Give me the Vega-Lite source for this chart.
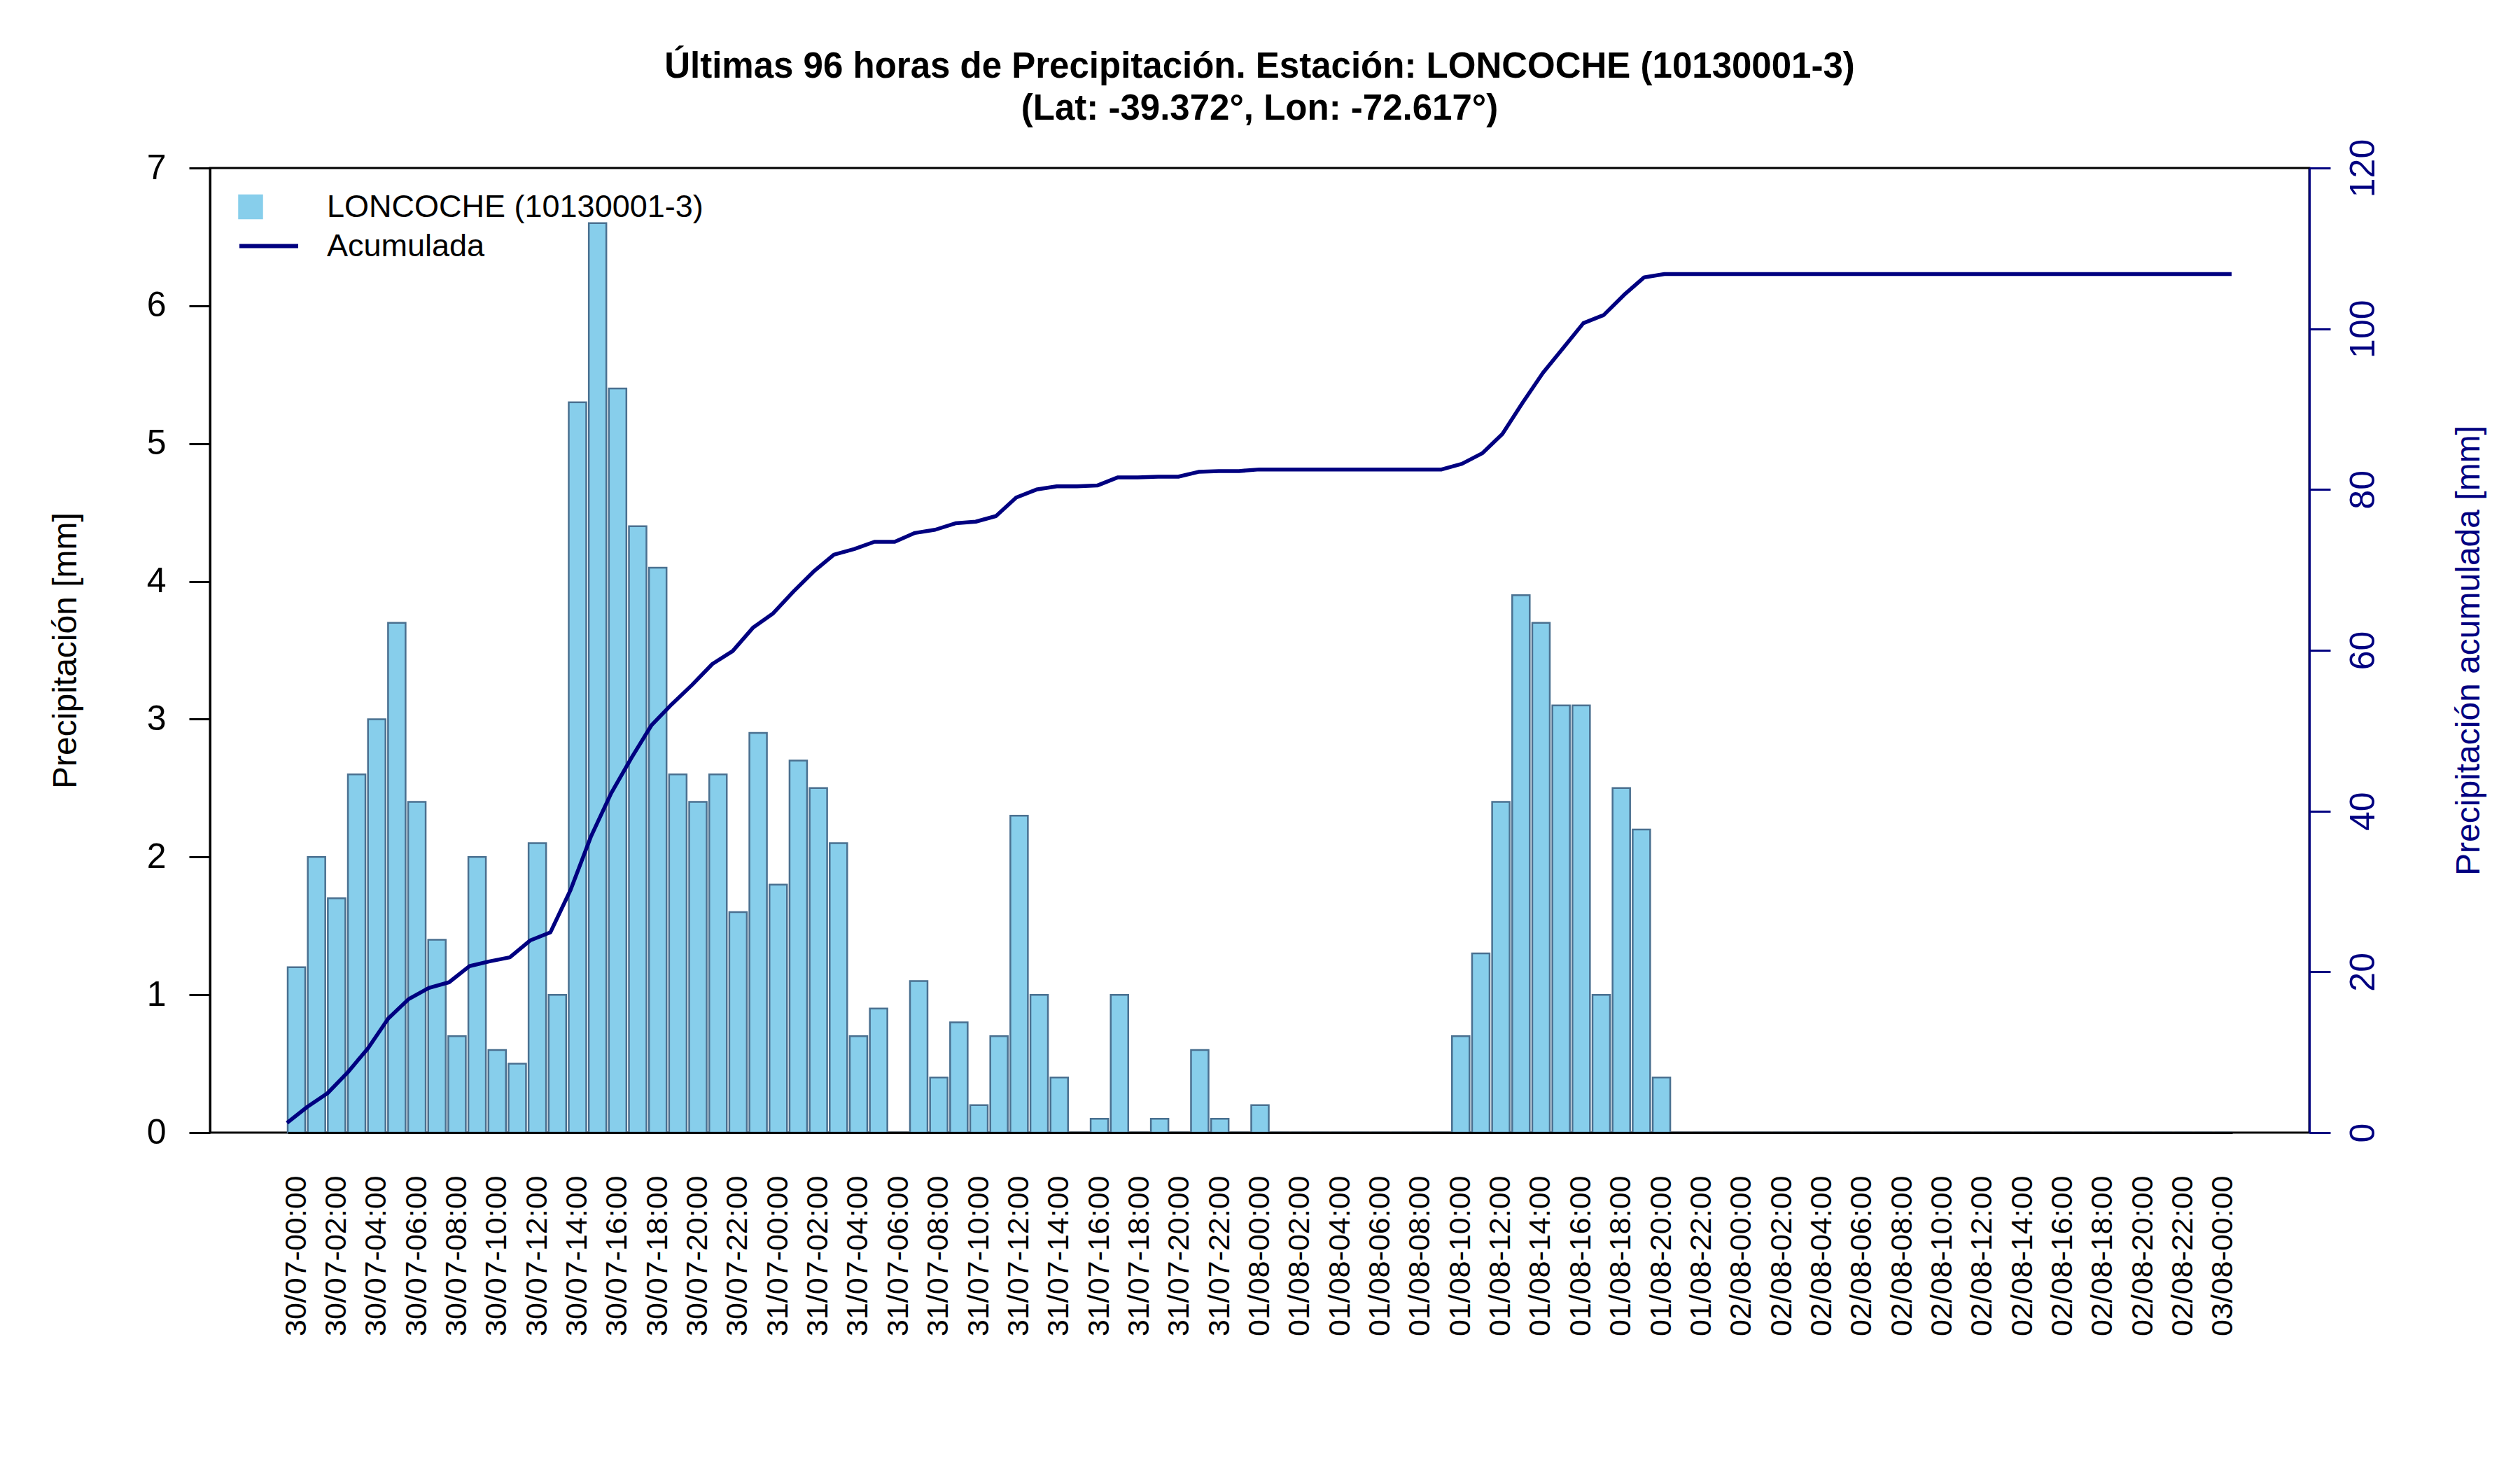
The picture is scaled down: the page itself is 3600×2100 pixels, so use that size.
{
  "$schema": "https://vega.github.io/schema/vega-lite/v6.json",
  "width": 2999,
  "height": 1378,
  "autosize": "none",
  "padding": {"left": 300, "top": 240, "right": 301, "bottom": 482},
  "background": "white",
  "title": {
    "text": ["Últimas 96 horas de Precipitación. Estación: LONCOCHE (10130001-3)", "(Lat: -39.372°, Lon: -72.617°)"],
    "font": "Liberation Sans",
    "fontSize": 51,
    "fontWeight": "bold",
    "lineHeight": 60,
    "offset": 16,
    "anchor": "middle",
    "color": "black"
  },
  "data": {
    "values": [
      {"t": "30/07-00:00", "p": 1.2, "c": 1.2},
      {"t": "30/07-01:00", "p": 2.0, "c": 3.2},
      {"t": "30/07-02:00", "p": 1.7, "c": 4.9},
      {"t": "30/07-03:00", "p": 2.6, "c": 7.5},
      {"t": "30/07-04:00", "p": 3.0, "c": 10.5},
      {"t": "30/07-05:00", "p": 3.7, "c": 14.2},
      {"t": "30/07-06:00", "p": 2.4, "c": 16.6},
      {"t": "30/07-07:00", "p": 1.4, "c": 18.0},
      {"t": "30/07-08:00", "p": 0.7, "c": 18.7},
      {"t": "30/07-09:00", "p": 2.0, "c": 20.7},
      {"t": "30/07-10:00", "p": 0.6, "c": 21.3},
      {"t": "30/07-11:00", "p": 0.5, "c": 21.8},
      {"t": "30/07-12:00", "p": 2.1, "c": 23.9},
      {"t": "30/07-13:00", "p": 1.0, "c": 24.9},
      {"t": "30/07-14:00", "p": 5.3, "c": 30.2},
      {"t": "30/07-15:00", "p": 6.6, "c": 36.8},
      {"t": "30/07-16:00", "p": 5.4, "c": 42.2},
      {"t": "30/07-17:00", "p": 4.4, "c": 46.6},
      {"t": "30/07-18:00", "p": 4.1, "c": 50.7},
      {"t": "30/07-19:00", "p": 2.6, "c": 53.3},
      {"t": "30/07-20:00", "p": 2.4, "c": 55.7},
      {"t": "30/07-21:00", "p": 2.6, "c": 58.3},
      {"t": "30/07-22:00", "p": 1.6, "c": 59.9},
      {"t": "30/07-23:00", "p": 2.9, "c": 62.8},
      {"t": "31/07-00:00", "p": 1.8, "c": 64.6},
      {"t": "31/07-01:00", "p": 2.7, "c": 67.3},
      {"t": "31/07-02:00", "p": 2.5, "c": 69.8},
      {"t": "31/07-03:00", "p": 2.1, "c": 71.9},
      {"t": "31/07-04:00", "p": 0.7, "c": 72.6},
      {"t": "31/07-05:00", "p": 0.9, "c": 73.5},
      {"t": "31/07-06:00", "p": 0.0, "c": 73.5},
      {"t": "31/07-07:00", "p": 1.1, "c": 74.6},
      {"t": "31/07-08:00", "p": 0.4, "c": 75.0},
      {"t": "31/07-09:00", "p": 0.8, "c": 75.8},
      {"t": "31/07-10:00", "p": 0.2, "c": 76.0},
      {"t": "31/07-11:00", "p": 0.7, "c": 76.7},
      {"t": "31/07-12:00", "p": 2.3, "c": 79.0},
      {"t": "31/07-13:00", "p": 1.0, "c": 80.0},
      {"t": "31/07-14:00", "p": 0.4, "c": 80.4},
      {"t": "31/07-15:00", "p": 0.0, "c": 80.4},
      {"t": "31/07-16:00", "p": 0.1, "c": 80.5},
      {"t": "31/07-17:00", "p": 1.0, "c": 81.5},
      {"t": "31/07-18:00", "p": 0.0, "c": 81.5},
      {"t": "31/07-19:00", "p": 0.1, "c": 81.6},
      {"t": "31/07-20:00", "p": 0.0, "c": 81.6},
      {"t": "31/07-21:00", "p": 0.6, "c": 82.2},
      {"t": "31/07-22:00", "p": 0.1, "c": 82.3},
      {"t": "31/07-23:00", "p": 0.0, "c": 82.3},
      {"t": "01/08-00:00", "p": 0.2, "c": 82.5},
      {"t": "01/08-01:00", "p": 0.0, "c": 82.5},
      {"t": "01/08-02:00", "p": 0.0, "c": 82.5},
      {"t": "01/08-03:00", "p": 0.0, "c": 82.5},
      {"t": "01/08-04:00", "p": 0.0, "c": 82.5},
      {"t": "01/08-05:00", "p": 0.0, "c": 82.5},
      {"t": "01/08-06:00", "p": 0.0, "c": 82.5},
      {"t": "01/08-07:00", "p": 0.0, "c": 82.5},
      {"t": "01/08-08:00", "p": 0.0, "c": 82.5},
      {"t": "01/08-09:00", "p": 0.0, "c": 82.5},
      {"t": "01/08-10:00", "p": 0.7, "c": 83.2},
      {"t": "01/08-11:00", "p": 1.3, "c": 84.5},
      {"t": "01/08-12:00", "p": 2.4, "c": 86.9},
      {"t": "01/08-13:00", "p": 3.9, "c": 90.8},
      {"t": "01/08-14:00", "p": 3.7, "c": 94.5},
      {"t": "01/08-15:00", "p": 3.1, "c": 97.6},
      {"t": "01/08-16:00", "p": 3.1, "c": 100.7},
      {"t": "01/08-17:00", "p": 1.0, "c": 101.7},
      {"t": "01/08-18:00", "p": 2.5, "c": 104.2},
      {"t": "01/08-19:00", "p": 2.2, "c": 106.4},
      {"t": "01/08-20:00", "p": 0.4, "c": 106.8},
      {"t": "01/08-21:00", "p": 0.0, "c": 106.8},
      {"t": "01/08-22:00", "p": 0.0, "c": 106.8},
      {"t": "01/08-23:00", "p": 0.0, "c": 106.8},
      {"t": "02/08-00:00", "p": 0.0, "c": 106.8},
      {"t": "02/08-01:00", "p": 0.0, "c": 106.8},
      {"t": "02/08-02:00", "p": 0.0, "c": 106.8},
      {"t": "02/08-03:00", "p": 0.0, "c": 106.8},
      {"t": "02/08-04:00", "p": 0.0, "c": 106.8},
      {"t": "02/08-05:00", "p": 0.0, "c": 106.8},
      {"t": "02/08-06:00", "p": 0.0, "c": 106.8},
      {"t": "02/08-07:00", "p": 0.0, "c": 106.8},
      {"t": "02/08-08:00", "p": 0.0, "c": 106.8},
      {"t": "02/08-09:00", "p": 0.0, "c": 106.8},
      {"t": "02/08-10:00", "p": 0.0, "c": 106.8},
      {"t": "02/08-11:00", "p": 0.0, "c": 106.8},
      {"t": "02/08-12:00", "p": 0.0, "c": 106.8},
      {"t": "02/08-13:00", "p": 0.0, "c": 106.8},
      {"t": "02/08-14:00", "p": 0.0, "c": 106.8},
      {"t": "02/08-15:00", "p": 0.0, "c": 106.8},
      {"t": "02/08-16:00", "p": 0.0, "c": 106.8},
      {"t": "02/08-17:00", "p": 0.0, "c": 106.8},
      {"t": "02/08-18:00", "p": 0.0, "c": 106.8},
      {"t": "02/08-19:00", "p": 0.0, "c": 106.8},
      {"t": "02/08-20:00", "p": 0.0, "c": 106.8},
      {"t": "02/08-21:00", "p": 0.0, "c": 106.8},
      {"t": "02/08-22:00", "p": 0.0, "c": 106.8},
      {"t": "02/08-23:00", "p": 0.0, "c": 106.8},
      {"t": "03/08-00:00", "p": 0.0, "c": 106.8}
    ]
  },
  "layer": [
    {
      "mark": {"type": "bar", "stroke": "#4A7090", "strokeWidth": 2.5},
      "encoding": {
        "x": {
          "field": "t",
          "type": "nominal",
          "sort": null,
          "scale": {"type": "band", "range": [111, 2889], "paddingInner": 0.128, "paddingOuter": 0},
          "axis": {
            "values": [
              "30/07-00:00", "30/07-02:00", "30/07-04:00", "30/07-06:00", "30/07-08:00", "30/07-10:00",
              "30/07-12:00", "30/07-14:00", "30/07-16:00", "30/07-18:00", "30/07-20:00", "30/07-22:00",
              "31/07-00:00", "31/07-02:00", "31/07-04:00", "31/07-06:00", "31/07-08:00", "31/07-10:00",
              "31/07-12:00", "31/07-14:00", "31/07-16:00", "31/07-18:00", "31/07-20:00", "31/07-22:00",
              "01/08-00:00", "01/08-02:00", "01/08-04:00", "01/08-06:00", "01/08-08:00", "01/08-10:00",
              "01/08-12:00", "01/08-14:00", "01/08-16:00", "01/08-18:00", "01/08-20:00", "01/08-22:00",
              "02/08-00:00", "02/08-02:00", "02/08-04:00", "02/08-06:00", "02/08-08:00", "02/08-10:00",
              "02/08-12:00", "02/08-14:00", "02/08-16:00", "02/08-18:00", "02/08-20:00", "02/08-22:00",
              "03/08-00:00"
            ],
            "title": null,
            "labelAngle": -90,
            "labelAlign": "right",
            "labelBaseline": "middle",
            "labelPadding": 61,
            "labelOverlap": false,
            "labelLimit": 0,
            "labelFontSize": 43,
            "labelColor": "black",
            "ticks": false,
            "tickSize": 0,
            "domain": true,
            "domainColor": "black",
            "domainWidth": 3,
            "grid": false,
            "zindex": 1
          }
        },
        "y": {
          "field": "p",
          "type": "quantitative",
          "scale": {"domain": [0, 7], "nice": false},
          "axis": {
            "orient": "left",
            "values": [0, 1, 2, 3, 4, 5, 6, 7],
            "title": "Precipitación [mm]",
            "tickSize": 30,
            "tickWidth": 3,
            "tickColor": "black",
            "domainColor": "black",
            "domainWidth": 3,
            "labelFontSize": 50,
            "labelColor": "black",
            "labelPadding": 33,
            "labelAngle": 0,
            "labelFlush": false,
            "titleFontSize": 48,
            "titleFontWeight": "normal",
            "titleColor": "black",
            "titleAngle": -90,
            "titleX": -206,
            "titleY": 689,
            "titleAlign": "center",
            "titleBaseline": "middle",
            "grid": false
          }
        },
        "color": {
          "datum": "LONCOCHE (10130001-3)",
          "scale": {"domain": ["LONCOCHE (10130001-3)", "Acumulada"], "range": ["#87CEEB", "#000080"]},
          "legend": {
            "orient": "none",
            "legendX": 42,
            "legendY": 33,
            "title": null,
            "padding": 0,
            "labelFontSize": 45,
            "labelColor": "black",
            "labelLimit": 0,
            "labelOffset": 80,
            "rowPadding": 10,
            "symbolSize": 7056,
            "symbolStrokeWidth": 6,
            "encode": {
              "symbols": {
                "update": {
                  "shape": {"signal": "datum.value === 'Acumulada' ? 'stroke' : 'square'"},
                  "size": {"signal": "datum.value === 'Acumulada' ? 7056 : 1089"},
                  "fill": {"signal": "datum.value === 'Acumulada' ? 'transparent' : '#87CEEB'"},
                  "stroke": {"signal": "datum.value === 'Acumulada' ? '#000080' : '#4A7090'"},
                  "strokeWidth": {"signal": "datum.value === 'Acumulada' ? 6 : 2.5"},
                  "x": {"signal": "datum.value === 'Acumulada' ? 42 : 16"}
                }
              }
            }
          }
        }
      }
    },
    {
      "mark": {"type": "line", "strokeWidth": 5.5, "strokeJoin": "round"},
      "encoding": {
        "x": {
          "field": "t",
          "type": "nominal",
          "sort": null,
          "scale": {"type": "point", "range": [110, 2888], "padding": 0},
          "axis": null
        },
        "y": {
          "field": "c",
          "type": "quantitative",
          "scale": {"domain": [0, 120], "nice": false},
          "axis": {
            "orient": "right",
            "values": [0, 20, 40, 60, 80, 100, 120],
            "title": "Precipitación acumulada [mm]",
            "tickSize": 30,
            "tickWidth": 3,
            "tickColor": "#000080",
            "domainColor": "#000080",
            "domainWidth": 3,
            "labelFontSize": 50,
            "labelColor": "#000080",
            "labelAngle": -90,
            "labelAlign": "center",
            "labelBaseline": "middle",
            "labelPadding": 47,
            "labelFlush": false,
            "titleFontSize": 48,
            "titleFontWeight": "normal",
            "titleColor": "#000080",
            "titleAngle": -90,
            "titleX": 228,
            "titleY": 689,
            "titleAlign": "center",
            "titleBaseline": "middle",
            "grid": false
          }
        },
        "color": {
          "datum": "Acumulada",
          "legend": {
            "orient": "none",
            "legendX": 42,
            "legendY": 33,
            "title": null,
            "padding": 0,
            "labelFontSize": 45,
            "labelColor": "black",
            "labelLimit": 0,
            "labelOffset": 80,
            "rowPadding": 10,
            "symbolSize": 7056,
            "symbolStrokeWidth": 6,
            "encode": {
              "symbols": {
                "update": {
                  "shape": {"signal": "datum.value === 'Acumulada' ? 'stroke' : 'square'"},
                  "size": {"signal": "datum.value === 'Acumulada' ? 7056 : 1089"},
                  "fill": {"signal": "datum.value === 'Acumulada' ? 'transparent' : '#87CEEB'"},
                  "stroke": {"signal": "datum.value === 'Acumulada' ? '#000080' : '#4A7090'"},
                  "strokeWidth": {"signal": "datum.value === 'Acumulada' ? 6 : 2.5"},
                  "x": {"signal": "datum.value === 'Acumulada' ? 42 : 16"}
                }
              }
            }
          }
        }
      }
    }
  ],
  "resolve": {"scale": {"x": "independent", "y": "independent"}},
  "config": {
    "font": "Liberation Sans",
    "view": {"stroke": "black", "strokeWidth": 3}
  }
}
